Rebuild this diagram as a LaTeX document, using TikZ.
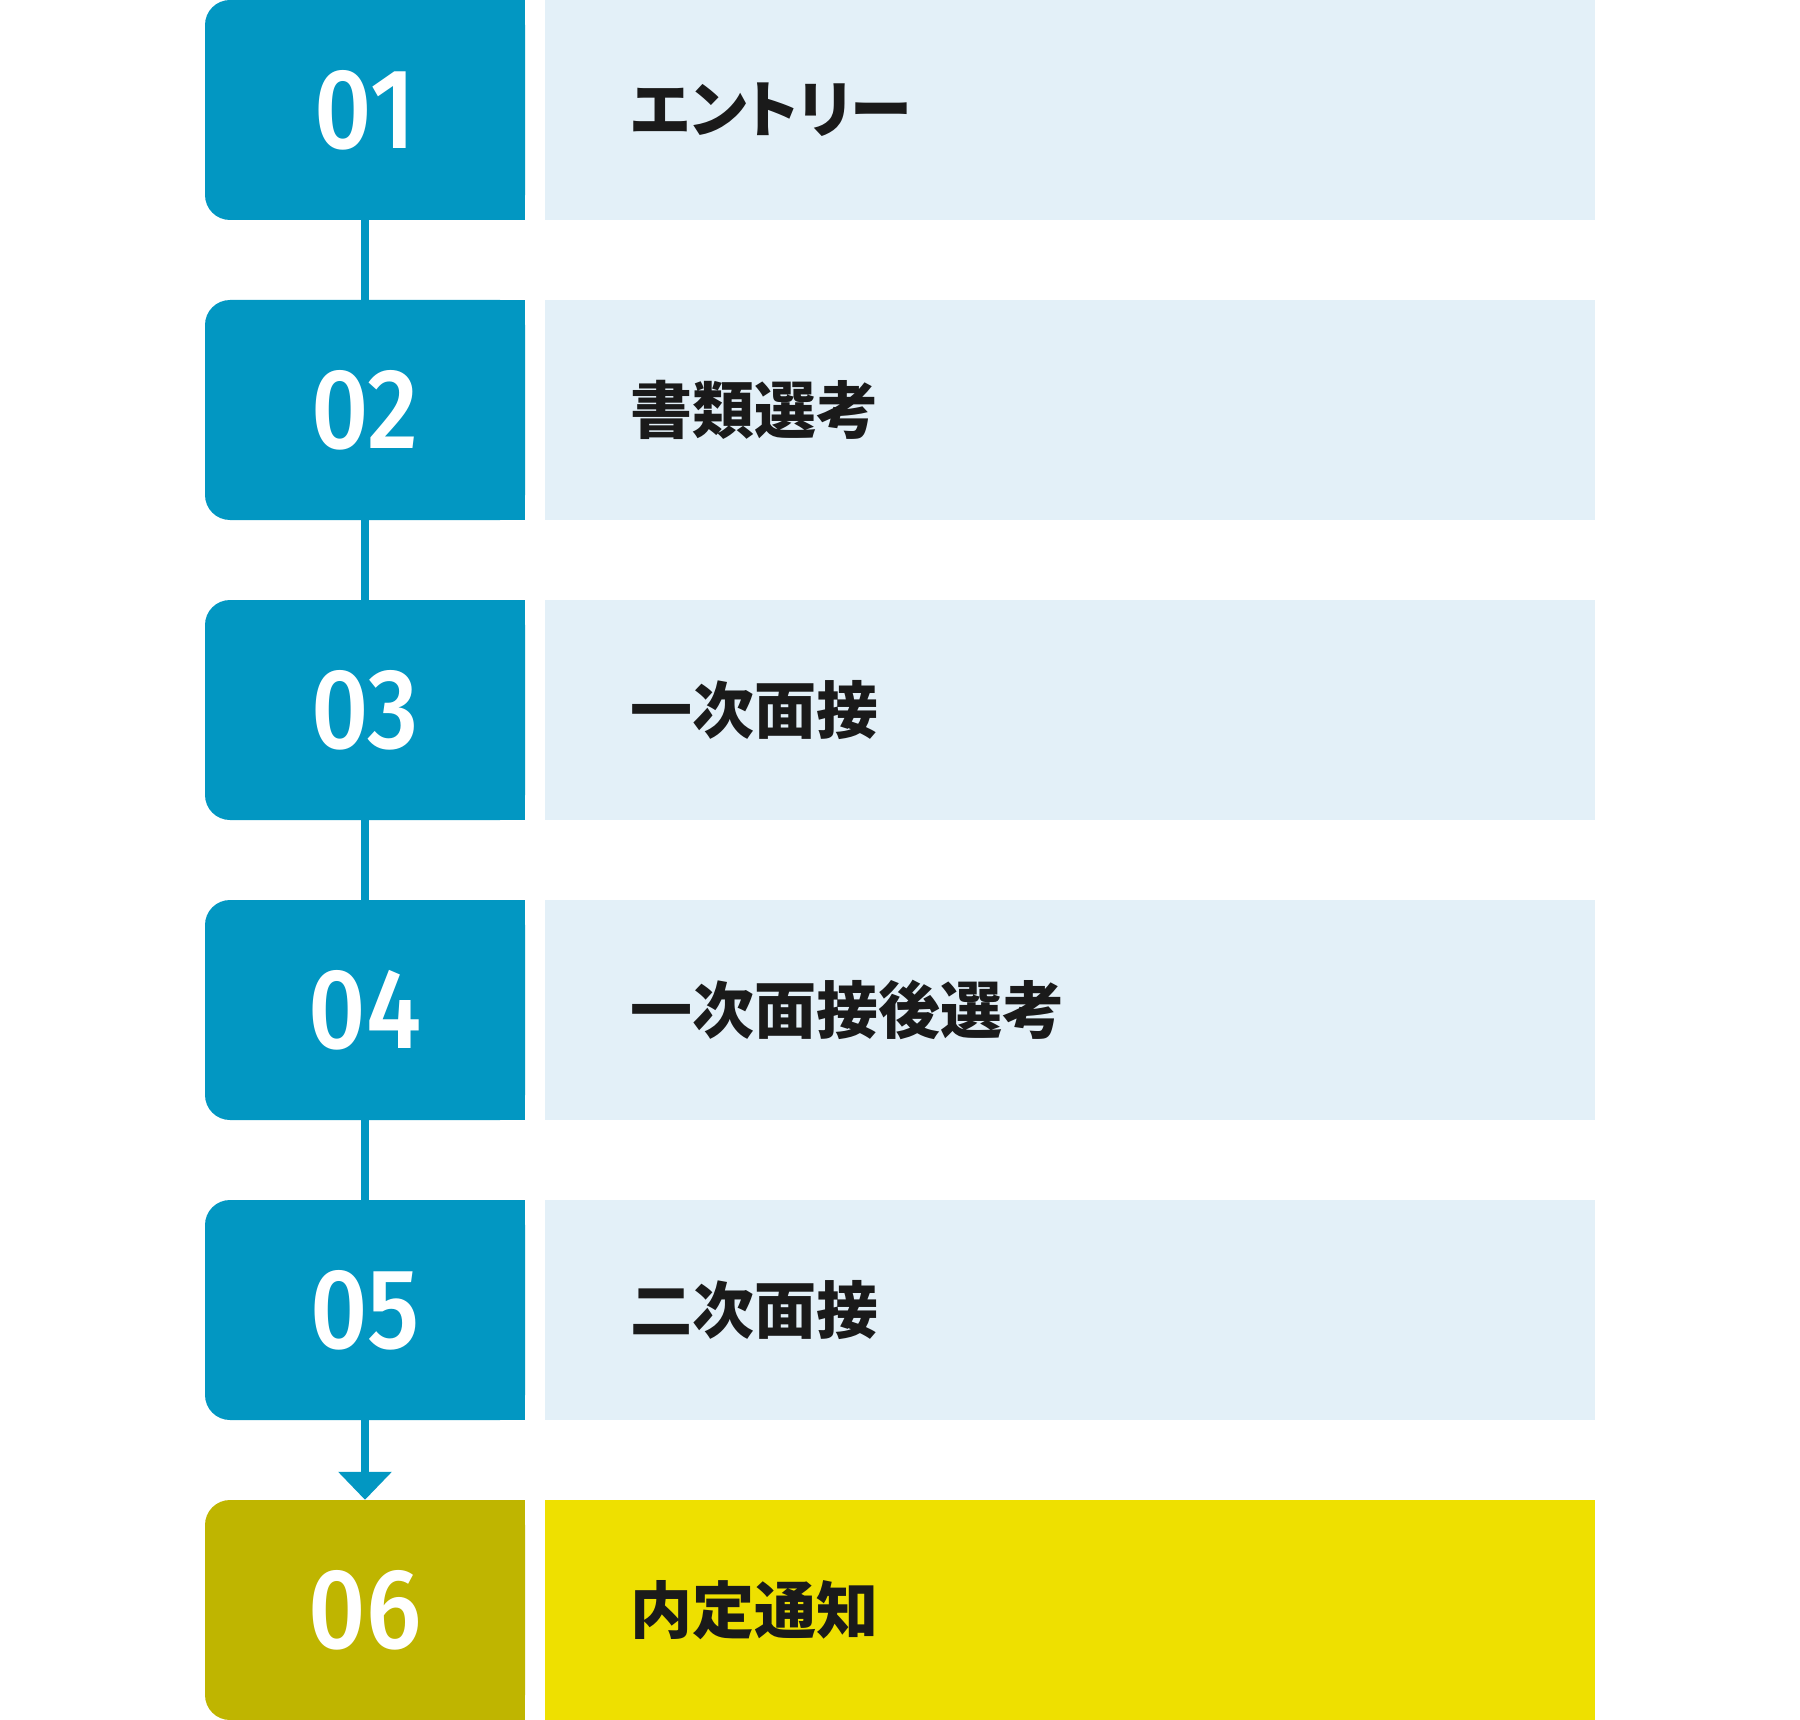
\documentclass[tikz,border=0pt]{standalone}
\usepackage{fontspec}
\newfontfamily\jpfont{Noto Sans CJK JP}[RawFeature=+palt]
\newfontfamily\numfont{Fira Sans}[FakeStretch=0.88, BoldFont={Fira Sans Medium}]
\usepackage{xcolor}
\usetikzlibrary{arrows.meta}
\definecolor{stepblue}{HTML}{0297C2}
\definecolor{paleblue}{HTML}{E3F0F8}
\definecolor{stepolive}{HTML}{BFB500}
\definecolor{stepyellow}{HTML}{EEE000}
\definecolor{inkgray}{HTML}{1A1A1A}
\tikzset{
  numbox/.style={minimum width=320pt, minimum height=220pt, inner sep=0pt, rounded corners=25pt,
    text=white, font=\numfont\bfseries\fontsize{114}{114}\selectfont},
  labelbox/.style={anchor=west, minimum height=220pt, text width=880pt, inner xsep=85pt, inner ysep=0pt,
    align=left, text=inkgray, font=\jpfont\bfseries\fontsize{62}{62}\selectfont},
  link/.style={draw=stepblue, line width=8pt}
}

\begin{document}
\begin{tikzpicture}[x=1pt,y=-1pt]
\useasboundingbox (0,0) rectangle (1800,1720);
% square right corners of the number boxes
\fill[stepblue] (365,0) rectangle (525,220);
\fill[stepblue] (365,300) rectangle (525,520);
\fill[stepblue] (365,600) rectangle (525,820);
\fill[stepblue] (365,900) rectangle (525,1120);
\fill[stepblue] (365,1200) rectangle (525,1420);
\fill[stepolive] (365,1500) rectangle (525,1720);

\node[numbox, fill=stepblue] (n1) at (365,110) {01};
\node[numbox, fill=stepblue] (n2) at (365,410) {02};
\node[numbox, fill=stepblue] (n3) at (365,710) {03};
\node[numbox, fill=stepblue] (n4) at (365,1010) {04};
\node[numbox, fill=stepblue] (n5) at (365,1310) {05};
\node[numbox, fill=stepolive] (n6) at (365,1610) {06};

\node[labelbox, fill=paleblue] (t1) at (545,110) {エントリー};
\node[labelbox, fill=paleblue] (t2) at (545,410) {書類選考};
\node[labelbox, fill=paleblue] (t3) at (545,710) {一次面接};
\node[labelbox, fill=paleblue] (t4) at (545,1010) {一次面接後選考};
\node[labelbox, fill=paleblue] (t5) at (545,1310) {二次面接};
\node[labelbox, fill=stepyellow] (t6) at (545,1610) {内定通知};

\draw[link] (n1.south) -- (n2.north);
\draw[link] (n2.south) -- (n3.north);
\draw[link] (n3.south) -- (n4.north);
\draw[link] (n4.south) -- (n5.north);
\draw[link, -{Triangle[width=52pt,length=28pt]}] (n5.south) -- (n6.north);

\end{tikzpicture}
\end{document}
